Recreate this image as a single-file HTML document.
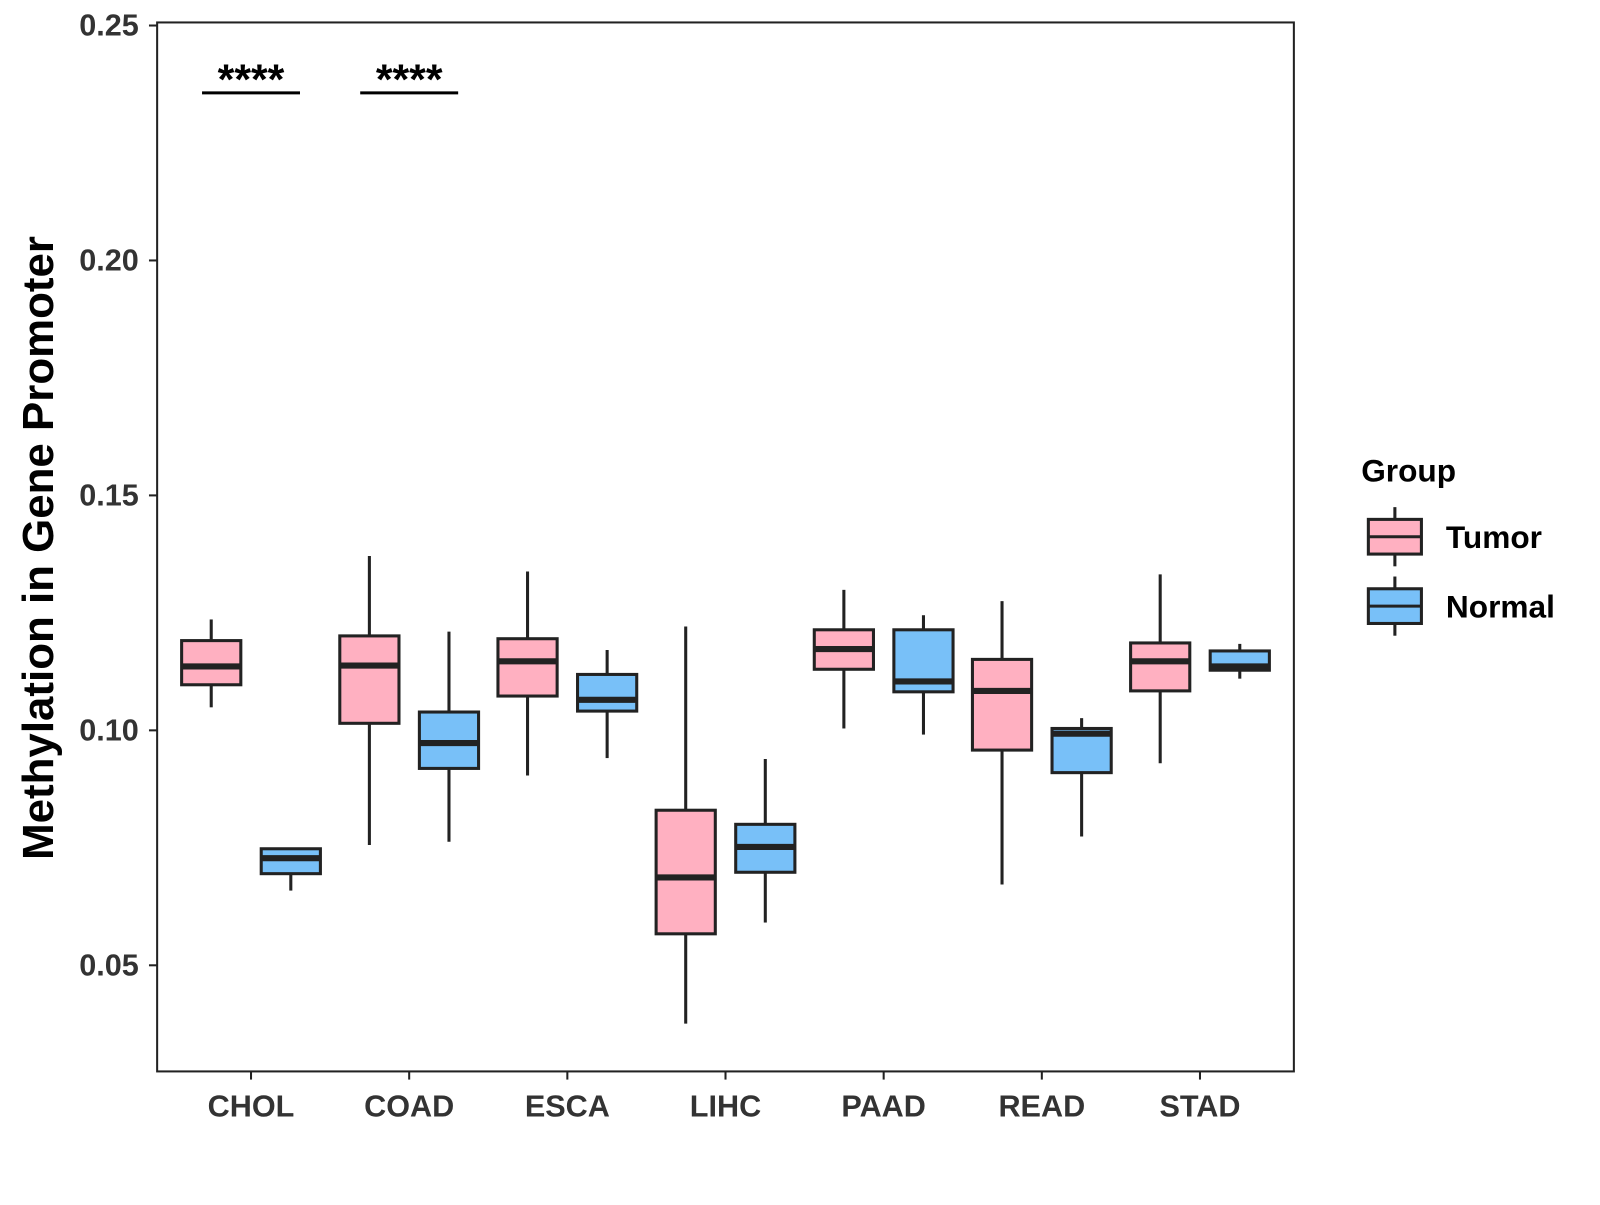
<!DOCTYPE html>
<html><head><meta charset="utf-8"><style>
body{margin:0;background:#fff}
svg text{font-family:"Liberation Sans",Arial,sans-serif;font-weight:bold}
</style></head><body>
<svg id="chart" width="1600" height="1200" xmlns="http://www.w3.org/2000/svg">
<g id="plot" transform="scale(1.0204)"></g>
</svg>
<script>
const categories=["CHOL","COAD","ESCA","LIHC","PAAD","READ","STAD"];
const groups=["Tumor","Normal"];
const tumorStats=[[0.1049,0.1097,0.1136,0.1191,0.1236],[0.0756,0.1015,0.1138,0.1201,0.1371],[0.0904,0.1073,0.1147,0.1195,0.1338],[0.0376,0.0567,0.0687,0.0830,0.1221],[0.1004,0.1130,0.1173,0.1214,0.1299],[0.0672,0.0958,0.1084,0.1151,0.1275],[0.0930,0.1084,0.1147,0.1186,0.1332]];
const normalStats=[[0.0659,0.0695,0.0728,0.0748,0.0748],[0.0763,0.0919,0.0973,0.1039,0.1210],[0.0941,0.1041,0.1065,0.1119,0.1171],[0.0591,0.0698,0.0752,0.0800,0.0939],[0.0991,0.1082,0.1104,0.1214,0.1245],[0.0774,0.0910,0.0993,0.1004,0.1026],[0.1110,0.1128,0.1136,0.1169,0.1184]];
const yTicks=[0.05,0.10,0.15,0.20,0.25];
const yTickLabels=["0.05","0.10","0.15","0.20","0.25"];
const sigCats=["CHOL","COAD"];
const sigLabels=["****","****"];
const colors={Tumor:"#FFB0C1",Normal:"#78C0F8"};
const ns="http://www.w3.org/2000/svg";
const X0=154,X1=1268,Y0=22,Y1=1050;
const y=v=>25+(0.25-v)*4605;
const x=i=>246+i*155;
const g=document.getElementById('plot');
function mk(t,a,p){const e=document.createElementNS(ns,t);for(const k in a)e.setAttribute(k,a[k]);(p||g).appendChild(e);return e;}
const frame=mk('rect',{x:X0,y:Y0,width:X1-X0,height:Y1-Y0,fill:'none',stroke:'#222','stroke-width':2});


yTicks.forEach((t,i)=>{
 const l=mk('line',{x1:X0-8,x2:X0,y1:y(t),y2:y(t),stroke:'#222','stroke-width':2});
 
 
 const tx=mk('text',{x:X0-18,y:y(t)+10,'text-anchor':'end','font-size':30,fill:'#333'});
 tx.textContent=yTickLabels[i];
 
 
});
categories.forEach((c,i)=>{
 const l=mk('line',{x1:x(i),x2:x(i),y1:Y1,y2:Y1+8,stroke:'#222','stroke-width':2});
 
 
 const tx=mk('text',{x:x(i),y:1094,'text-anchor':'middle','font-size':30,fill:'#333'});
 tx.textContent=c;
 
 
});
function box(cx,s,fill,name){
 const bg=mk('g',{});
 
 
 const w=58;
 mk('line',{x1:cx,x2:cx,y1:y(s[4]),y2:y(s[3]),stroke:'#222','stroke-width':3},bg);
 mk('line',{x1:cx,x2:cx,y1:y(s[1]),y2:y(s[0]),stroke:'#222','stroke-width':3},bg);
 mk('rect',{x:cx-w/2,y:y(s[3]),width:w,height:y(s[1])-y(s[3]),fill:fill,stroke:'#222','stroke-width':3},bg);
 mk('line',{x1:cx-w/2,x2:cx+w/2,y1:y(s[2]),y2:y(s[2]),stroke:'#222','stroke-width':6},bg);
}
categories.forEach((c,i)=>{
 box(x(i)-39,tumorStats[i],colors.Tumor,'box-tumor-'+c.toLowerCase());
 box(x(i)+39,normalStats[i],colors.Normal,'box-normal-'+c.toLowerCase());
});
sigCats.forEach((c,k)=>{
 const i=categories.indexOf(c);
 const l=mk('line',{x1:x(i)-48,x2:x(i)+48,y1:91,y2:91,stroke:'#000','stroke-width':3});
 
 
 const t=mk('text',{x:x(i),y:92,'text-anchor':'middle','font-size':42,fill:'#000'});
 t.textContent=sigLabels[k];
 
 
});
const yt=mk('text',{x:0,y:0,transform:'translate(52,537) rotate(-90)','text-anchor':'middle','font-size':43,fill:'#000'});
yt.textContent='Methylation in Gene Promoter';


const lt=mk('text',{x:1334,y:472,'font-size':31,fill:'#000'});
lt.textContent='Group';


groups.forEach((gname,k)=>{
 const top=509+k*68;
 const lg=mk('g',{});
 
 
 mk('line',{x1:1367,x2:1367,y1:top-12,y2:top+46,stroke:'#222','stroke-width':3},lg);
 mk('rect',{x:1341,y:top,width:52,height:34,fill:colors[gname],stroke:'#222','stroke-width':3},lg);
 mk('line',{x1:1341,x2:1393,y1:top+17,y2:top+17,stroke:'#222','stroke-width':3},lg);
 const t=mk('text',{x:1417,y:top+28,'font-size':31,fill:'#000'},lg);
 t.textContent=gname;
});
</script>
</body></html>
